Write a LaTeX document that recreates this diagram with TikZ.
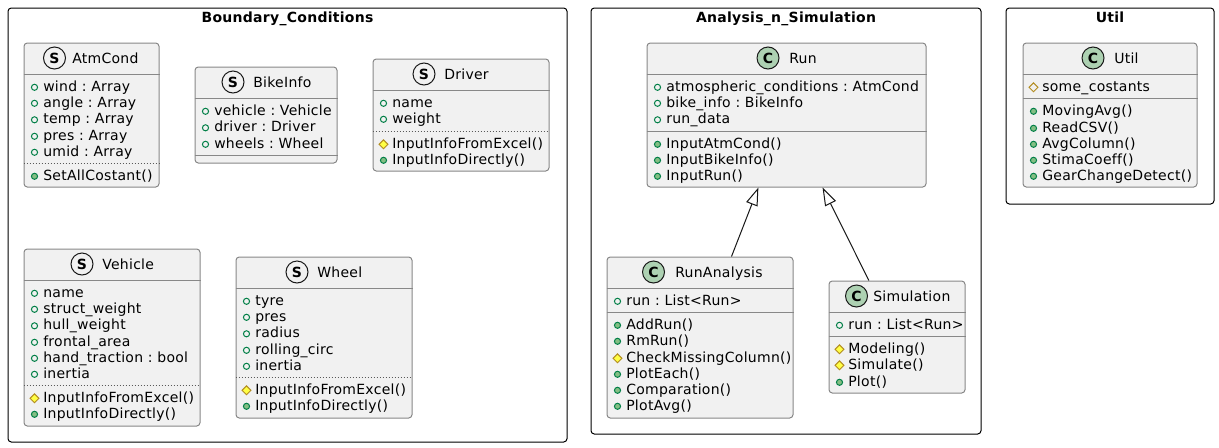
\documentclass[tikz,border=0pt]{standalone}
\usepackage{fontspec}
\setmainfont[Ligatures=NoCommon, LetterSpace=2]{DejaVu Sans}
\usetikzlibrary{arrows.meta,shapes.geometric}
\frenchspacing

\definecolor{classfill}{HTML}{F1F1F1}
\definecolor{classedge}{HTML}{888888}
\definecolor{inkdark}{HTML}{181818}
\definecolor{iconfill}{HTML}{ADD1B2}
\definecolor{pubedge}{HTML}{038048}
\definecolor{pubfill}{HTML}{84BE84}
\definecolor{protedge}{HTML}{B38D22}
\definecolor{protfill}{HTML}{FFFF44}

% one class row: marker style, name, left edge of class, baseline, text
\newcommand{\member}[5]{%
    \node[#1] (#2_mark) at (#3+10.5,#4-3.7) {};
    \node[member_text] (#2) at (#3+19,#4) {#5};
}
% line across a class at height y
\newcommand{\classline}[3][]{%
    \draw[class_sep, #1] (#2.west |- 0,#3) -- (#2.east |- 0,#3);
}

\begin{document}
\begin{tikzpicture}
        [x=0.75pt, y=-0.75pt, font=\fontsize{10.5}{12}\selectfont,
        box_size/.style 2 args={minimum width=#1*0.75pt, minimum height=#2*0.75pt},
        package/.style={rectangle, draw=black, fill=white, line width=0.75pt, rounded corners=2.5pt, inner sep=0pt},
        package_title/.style={anchor=base, inner sep=0pt, font=\fontsize{10.5}{12}\selectfont\bfseries},
        class/.style={rectangle, draw=classedge, fill=classfill, line width=0.75pt, rounded corners=2.5pt, inner sep=0pt},
        class_sep/.style={draw=classedge, line width=0.75pt},
        dotted_sep/.style={dash pattern=on 0.75pt off 1.5pt, draw=inkdark!70!classfill, line width=0.5pt},
        class_title/.style={anchor=base west, inner sep=0pt},
        icon_s/.style={circle, draw=inkdark, fill=classfill, line width=0.75pt, minimum size=16.5pt, inner sep=0pt, font=\fontsize{10.5}{12}\selectfont\bfseries},
        icon_c/.style={icon_s, fill=iconfill},
        member_text/.style={anchor=base west, inner sep=0pt},
        pub_field/.style={circle, draw=pubedge, line width=0.75pt, minimum size=4.6pt, inner sep=0pt},
        pub_method/.style={pub_field, fill=pubfill},
        prot_field/.style={diamond, draw=protedge, line width=0.75pt, minimum size=7pt, inner sep=0pt},
        prot_method/.style={prot_field, fill=protfill},
        extends/.style={draw=inkdark, line width=0.75pt, -{Triangle[open, fill=white, length=13.5pt, width=9pt]}}]

        \useasboundingbox (0,0) rectangle (1219,447);

        % packages
        \node[package, box_size={559}{434}] (boundary) at (287.5,225) {};
        \node[package, box_size={390}{426}] (analysis) at (786,221) {};
        \node[package, box_size={208}{196}] (util_pkg) at (1110,106) {};
        \node[package_title] (boundary_title) at (287.5,22) {Boundary\_Conditions};
        \node[package_title] (analysis_title) at (786,22) {Analysis\_n\_Simulation};
        \node[package_title] (util_title) at (1110,22) {Util};

        % AtmCond
        \node[class, box_size={135}{144}] (atmcond) at (91.5,115) {};
        \node[icon_s] (atmcond_icon) at (54.5,58) {S};
        \node[class_title] (atmcond_title) at (72,63) {AtmCond};
        \classline{atmcond}{74.5}
        \member{pub_field}{atm_wind}{24}{91}{wind : Array}
        \member{pub_field}{atm_angle}{24}{107}{angle : Array}
        \member{pub_field}{atm_temp}{24}{123.5}{temp : Array}
        \member{pub_field}{atm_pres}{24}{140}{pres : Array}
        \member{pub_field}{atm_umid}{24}{156}{umid : Array}
        \classline[dotted_sep]{atmcond}{163.5}
        \member{pub_method}{atm_set}{24}{180}{SetAllCostant()}

        % BikeInfo
        \node[class, box_size={142}{96}] (bikeinfo) at (266,115) {};
        \node[icon_s] (bikeinfo_icon) at (233,82) {S};
        \node[class_title] (bikeinfo_title) at (253,87) {BikeInfo};
        \classline{bikeinfo}{98.5}
        \member{pub_field}{bike_vehicle}{195}{115}{vehicle : Vehicle}
        \member{pub_field}{bike_driver}{195}{131.5}{driver : Driver}
        \member{pub_field}{bike_wheels}{195}{148}{wheels : Wheel}
        \classline{bikeinfo}{155}

        % Driver
        \node[class, box_size={176}{112}] (driver) at (461,115) {};
        \node[icon_s] (driver_icon) at (424,74) {S};
        \node[class_title] (driver_title) at (444,79) {Driver};
        \classline{driver}{90.5}
        \member{pub_field}{driver_name}{373}{107}{name}
        \member{pub_field}{driver_weight}{373}{123}{weight}
        \classline[dotted_sep]{driver}{131}
        \member{prot_method}{driver_excel}{373}{148}{InputInfoFromExcel()}
        \member{pub_method}{driver_direct}{373}{164}{InputInfoDirectly()}

        % Vehicle
        \node[class, box_size={176}{177}] (vehicle) at (112,337.5) {};
        \node[icon_s] (vehicle_icon) at (82,264) {S};
        \node[class_title] (vehicle_title) at (102,269) {Vehicle};
        \classline{vehicle}{280.5}
        \member{pub_field}{veh_name}{24}{297}{name}
        \member{pub_field}{veh_struct}{24}{313}{struct\_weight}
        \member{pub_field}{veh_hull}{24}{329.5}{hull\_weight}
        \member{pub_field}{veh_frontal}{24}{346}{frontal\_area}
        \member{pub_field}{veh_hand}{24}{362}{hand\_traction : bool}
        \member{pub_field}{veh_inertia}{24}{378}{inertia}
        \classline[dotted_sep]{vehicle}{385.5}
        \member{prot_method}{veh_excel}{24}{402}{InputInfoFromExcel()}
        \member{pub_method}{veh_direct}{24}{418}{InputInfoDirectly()}

        % Wheel
        \node[class, box_size={176}{161}] (wheel) at (324,337.5) {};
        \node[icon_s] (wheel_icon) at (297,272) {S};
        \node[class_title] (wheel_title) at (317,277) {Wheel};
        \classline{wheel}{288.5}
        \member{pub_field}{wheel_tyre}{236}{305}{tyre}
        \member{pub_field}{wheel_pres}{236}{321}{pres}
        \member{pub_field}{wheel_radius}{236}{337.5}{radius}
        \member{pub_field}{wheel_rolling}{236}{354}{rolling\_circ}
        \member{pub_field}{wheel_inertia}{236}{370}{inertia}
        \classline[dotted_sep]{wheel}{377.5}
        \member{prot_method}{wheel_excel}{236}{394}{InputInfoFromExcel()}
        \member{pub_method}{wheel_direct}{236}{410}{InputInfoDirectly()}

        % Run
        \node[class, box_size={279}{144}] (run) at (786.5,115) {};
        \node[icon_c] (run_icon) at (768,58) {C};
        \node[class_title] (run_title) at (789,63) {Run};
        \classline{run}{74.5}
        \member{pub_field}{run_atm}{647}{91}{atmospheric\_conditions : AtmCond}
        \member{pub_field}{run_bike}{647}{107}{bike\_info : BikeInfo}
        \member{pub_field}{run_data}{647}{123.5}{run\_data}
        \classline{run}{131}
        \member{pub_method}{run_inatm}{647}{148}{InputAtmCond()}
        \member{pub_method}{run_inbike}{647}{164}{InputBikeInfo()}
        \member{pub_method}{run_inrun}{647}{180}{InputRun()}

        % RunAnalysis
        \node[class, box_size={186}{161}] (runanalysis) at (700,337.5) {};
        \node[icon_c] (runanalysis_icon) at (653.5,272) {C};
        \node[class_title] (runanalysis_title) at (675,277) {RunAnalysis};
        \classline{runanalysis}{288.5}
        \member{pub_field}{ra_run}{607}{305}{run : List<Run>}
        \classline{runanalysis}{312.5}
        \member{pub_method}{ra_add}{607}{329}{AddRun()}
        \member{pub_method}{ra_rm}{607}{345}{RmRun()}
        \member{prot_method}{ra_check}{607}{362}{CheckMissingColumn()}
        \member{pub_method}{ra_plot}{607}{378}{PlotEach()}
        \member{pub_method}{ra_comp}{607}{394}{Comparation()}
        \member{pub_method}{ra_avg}{607}{410}{PlotAvg()}

        % Simulation
        \node[class, box_size={136}{112}] (simulation) at (897,337) {};
        \node[icon_c] (simulation_icon) at (856.5,296) {C};
        \node[class_title] (simulation_title) at (873,301) {Simulation};
        \classline{simulation}{312.5}
        \member{pub_field}{sim_run}{829}{329}{run : List<Run>}
        \classline{simulation}{336.5}
        \member{prot_method}{sim_model}{829}{353}{Modeling()}
        \member{prot_method}{sim_simulate}{829}{369}{Simulate()}
        \member{pub_method}{sim_plot}{829}{386}{Plot()}

        % Util
        \node[class, box_size={174}{144}] (util) at (1110,115) {};
        \node[icon_c] (util_icon) at (1093,58) {C};
        \node[class_title] (util_name) at (1114,63) {Util};
        \classline{util}{74.5}
        \member{prot_field}{util_const}{1023}{91}{some\_costants}
        \classline{util}{98.5}
        \member{pub_method}{util_moving}{1023}{115}{MovingAvg()}
        \member{pub_method}{util_read}{1023}{132}{ReadCSV()}
        \member{pub_method}{util_avg}{1023}{148}{AvgColumn()}
        \member{pub_method}{util_stima}{1023}{164}{StimaCoeff()}
        \member{pub_method}{util_gear}{1023}{180}{GearChangeDetect()}

        % inheritance edges
        \draw[extends] (runanalysis) -- (run);
        \draw[extends] (simulation) -- (run);

    \end{tikzpicture}
\end{document}
